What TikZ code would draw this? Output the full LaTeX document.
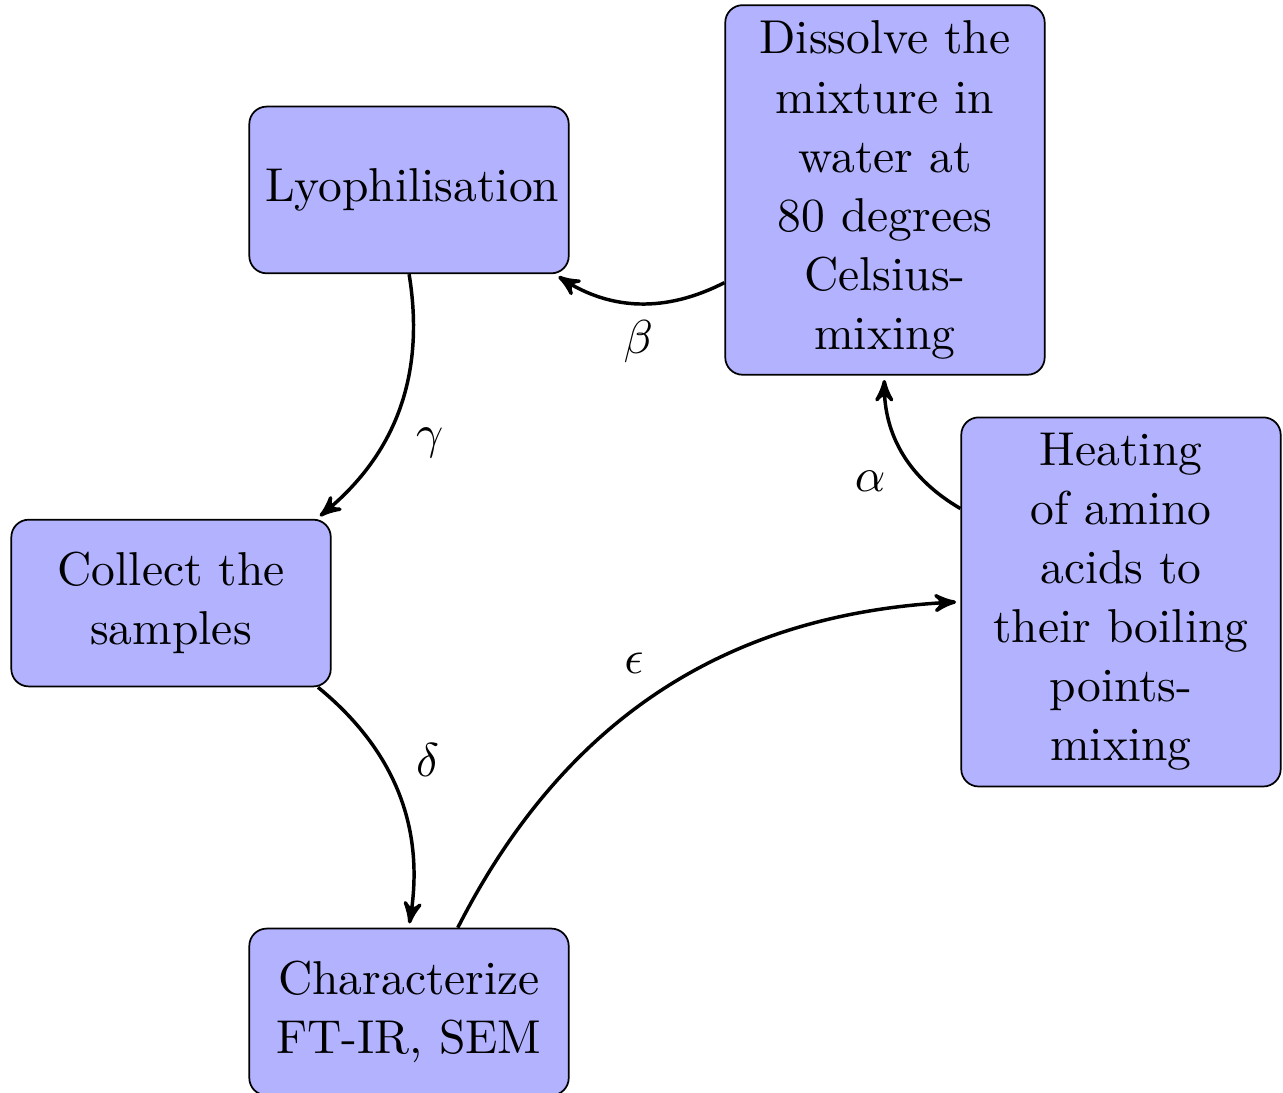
\documentclass[tikz,border=0pt,11pt]{standalone}
\usetikzlibrary{arrows}

\tikzset{
  stage/.style={rectangle, draw, fill=blue!30, rounded corners,
    text width=2.33cm, minimum height=1.35cm, align=center},
  flow/.style={->, >=stealth', thick, shorten >=1pt}
}

\begin{document}
\begin{tikzpicture}[auto]
% fix the page size
\useasboundingbox (0,0) rectangle (10.389,-8.85);

% the five steps of the cycle
\node[stage] (heat) at (9.077,-4.874) {Heating\\ of amino\\ acids to\\ their boiling\\ points-\\ mixing};
\node[stage] (diss) at (7.166,-1.538) {Dissolve the\\ mixture in\\ water at\\ 80 degrees\\ Celsius-\\ mixing};
\node[stage] (lyo) at (3.312,-1.538) {Lyophilisation};
\node[stage] (coll) at (1.385,-4.883) {Collect the\\ samples};
\node[stage] (char) at (3.312,-8.194) {Characterize\\ FT-IR, SEM};

% arrows round the cycle
\draw[flow] (heat) to[bend left] node {$\alpha$} (diss);
\draw[flow] (diss) to[bend left] node {$\beta$} (lyo);
\draw[flow] (lyo) to[bend left] node {$\gamma$} (coll);
\draw[flow] (coll) to[bend left] node {$\delta$} (char);
\draw[flow] (char) to[bend left] node {$\epsilon$} (heat);

\end{tikzpicture}
\end{document}
